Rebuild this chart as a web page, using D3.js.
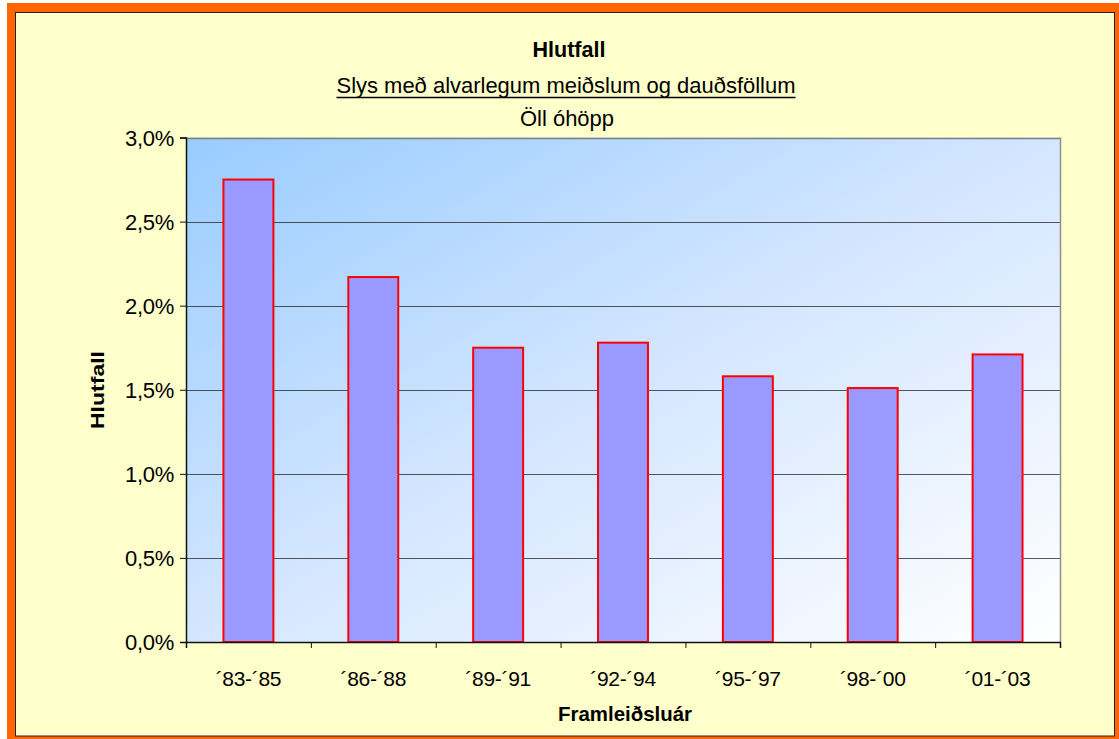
<!DOCTYPE html>
<html><head><meta charset="utf-8">
<script src="https://cdn.jsdelivr.net/npm/d3@7"></script>
<style>
html,body{margin:0;padding:0;background:#fff;}
svg{display:block;font-family:"Liberation Sans",Arial,sans-serif;}
</style></head>
<body><svg id="c" width="1119" height="739"></svg>
<script>
const categories = ["\u00b483-\u00b485","\u00b486-\u00b488","\u00b489-\u00b491","\u00b492-\u00b494","\u00b495-\u00b497","\u00b498-\u00b400","\u00b401-\u00b403"];
const values = [2.75, 2.17, 1.75, 1.78, 1.58, 1.51, 1.71];
const yTicks = [0, 0.5, 1.0, 1.5, 2.0, 2.5, 3.0];
const titleText = "Hlutfall";
const subtitleText = "Slys með alvarlegum meiðslum og dauðsföllum";
const subtitle2Text = "Öll óhöpp";
const xTitle = "Framleiðsluár";
const yTitle = "Hlutfall";

const svg = d3.select("#c");
const L = 186, R = 1060, T = 137.5, B = 642;

// frame
svg.append("rect").attr("x",7).attr("y",3).attr("width",1130).attr("height",750).attr("fill","#ff6600");
svg.append("rect").attr("x",15.5).attr("y",12.5).attr("width",1099).attr("height",723.5)
  .attr("fill","#ffffcc").attr("stroke","#222").attr("stroke-width",1);

const defs = svg.append("defs");
const g = defs.append("linearGradient").attr("id","bg").attr("x1","0").attr("y1","0").attr("x2","1").attr("y2","1");
g.append("stop").attr("offset","0").attr("stop-color","#99ccff");
g.append("stop").attr("offset","0.5").attr("stop-color","#d4e6ff");
g.append("stop").attr("offset","1").attr("stop-color","#ffffff");

const x = d3.scaleBand().domain(categories).range([L,R]).paddingInner(0.6).paddingOuter(0.3);
const xb = d3.scaleLinear().domain([0,categories.length]).range([L,R]);
const y = d3.scaleLinear().domain([0,3]).range([B,T]);

svg.append("rect").attr("x",L).attr("y",T).attr("width",R-L).attr("height",B-T).attr("fill","url(#bg)");

// gridlines
svg.append("g").selectAll("line").data(yTicks.filter(d=>d>0)).join("line")
  .attr("x1",L).attr("x2",R).attr("y1",d=>Math.round(y(d))+0.5).attr("y2",d=>Math.round(y(d))+0.5)
  .attr("stroke",d=>d===3?"#808080":"#222").attr("stroke-opacity",d=>d===3?1:0.75).attr("stroke-width",d=>d===3?1.5:1);

// right border
svg.append("line").attr("x1",R+0.5).attr("x2",R+0.5).attr("y1",T).attr("y2",B).attr("stroke","#909090").attr("stroke-width",1.5);

// bars
svg.append("g").selectAll("rect").data(values).join("rect")
  .attr("x",(d,i)=>x(categories[i])).attr("width",x.bandwidth())
  .attr("y",d=>y(d)).attr("height",d=>B-y(d))
  .attr("fill","#9999ff").attr("stroke","#ff0000").attr("stroke-width",2);

// y axis
const ya = svg.append("g").attr("transform",`translate(${L},0)`)
  .call(d3.axisLeft(y).tickValues(yTicks).tickSize(6).tickPadding(6)
    .tickFormat(d=>d.toFixed(1).replace(".",",")+"%"));
ya.select(".domain").attr("stroke","#111").attr("stroke-width",1.5);
ya.selectAll(".tick line").attr("stroke","#111");
ya.selectAll("text").attr("font-size",22).attr("fill","#000").attr("dy","0.36em")
  .attr("font-family","Liberation Sans, Arial, sans-serif").attr("letter-spacing",-0.3);

// x axis boundaries
const xa = svg.append("g").attr("transform",`translate(0,${B})`)
  .call(d3.axisBottom(xb).tickValues(d3.range(categories.length+1)).tickSize(6).tickFormat(""));
xa.select(".domain").attr("stroke","#111").attr("stroke-width",1.5);
xa.selectAll(".tick line").attr("stroke","#111");
// x labels
const xl = svg.append("g").attr("transform",`translate(0,${B})`)
  .call(d3.axisBottom(x).tickSize(0).tickPadding(0));
xl.select(".domain").remove();
xl.selectAll("text").attr("font-size",21).attr("fill","#000").attr("y",44).attr("dy",0)
  .attr("font-family","Liberation Sans, Arial, sans-serif").attr("letter-spacing",-0.3);

// titles
const cx = 569;
svg.append("text").attr("x",cx).attr("y",56.5).attr("text-anchor","middle").attr("font-size",22)
  .attr("font-weight","bold").attr("textLength",73).attr("lengthAdjust","spacingAndGlyphs").text(titleText);
const st = svg.append("text").attr("x",566).attr("y",93).attr("text-anchor","middle").attr("font-size",22)
  .attr("textLength",459).attr("lengthAdjust","spacingAndGlyphs").text(subtitleText);
svg.append("line").attr("x1",566-229.5).attr("x2",566+229.5).attr("y1",97.5).attr("y2",97.5).attr("stroke","#000").attr("stroke-width",1.5);
svg.append("text").attr("x",567).attr("y",126).attr("text-anchor","middle").attr("font-size",22)
  .attr("textLength",94).attr("lengthAdjust","spacingAndGlyphs").text(subtitle2Text);

svg.append("text").attr("x",625).attr("y",720.5).attr("text-anchor","middle").attr("font-size",21)
  .attr("font-weight","bold").attr("textLength",134).attr("lengthAdjust","spacingAndGlyphs").text(xTitle);
svg.append("text").attr("transform","translate(103.5,390) rotate(-90)").attr("text-anchor","middle").attr("font-size",18)
  .attr("font-weight","bold").attr("textLength",78).attr("lengthAdjust","spacingAndGlyphs").text(yTitle);
</script></body></html>
